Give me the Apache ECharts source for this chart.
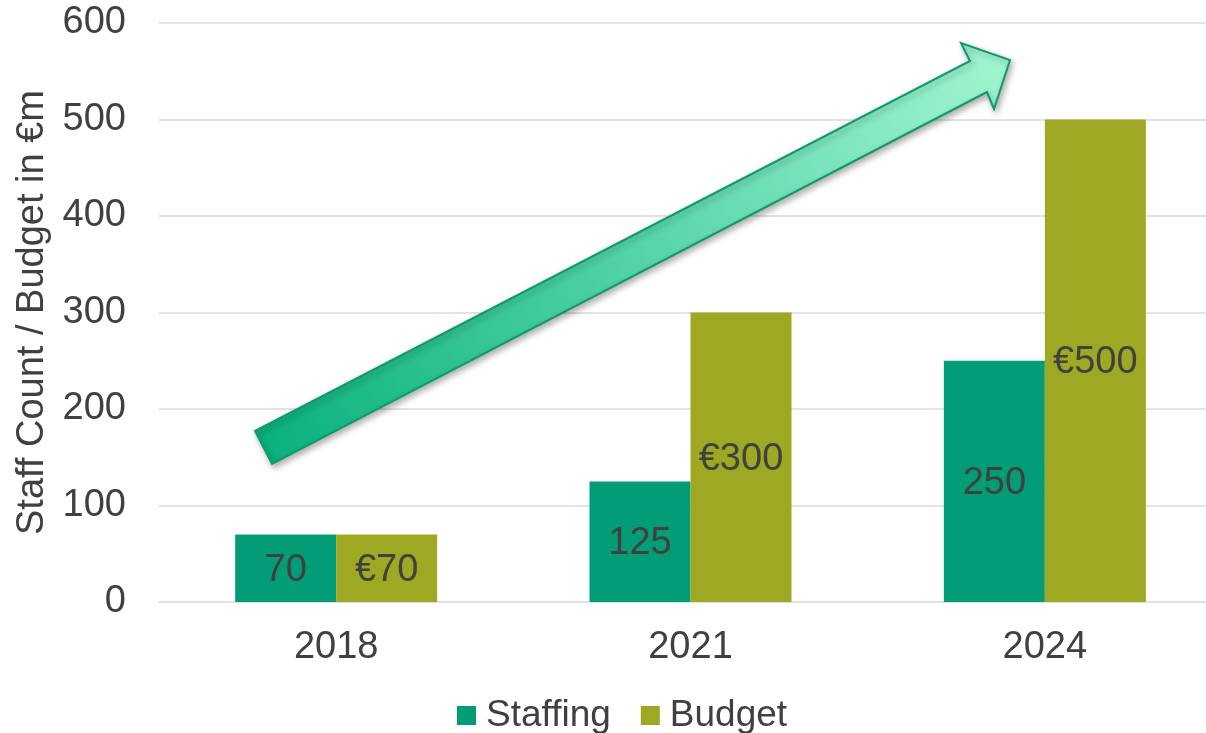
<!DOCTYPE html>
<html>
<head>
<meta charset="utf-8">
<script src="https://cdn.jsdelivr.net/npm/echarts@6/dist/echarts.min.js"></script>
<style>
  html, body { margin: 0; padding: 0; background: #fff; }
  #chart { width: 1206px; height: 733px; }
</style>
</head>
<body>
<div id="chart"></div>
<script>
var years = ['2018', '2021', '2024'];
var staffing = [70, 125, 250];
var budget = [70, 300, 500];
var yTicks = { min: 0, max: 600, interval: 100 };

var font = 'Liberation Sans, Arial, sans-serif';
var textColor = '#404040';
var fs = 38;

var chart = echarts.init(document.getElementById('chart'));

chart.setOption({
    backgroundColor: '#fff',
    animation: false,
    textStyle: { fontFamily: font },
    grid: { left: 159, top: 23, width: 1063, bottom: 131, containLabel: false, outerBoundsMode: 'none' },
    legend: {
        bottom: -6,
        left: 452,
        itemWidth: 19,
        itemHeight: 19,
        itemGap: 30,
        icon: 'rect',
        textStyle: { fontSize: 37, color: textColor, fontFamily: font, padding: [0, 0, 0, 5] },
        data: ['Staffing', 'Budget']
    },
    xAxis: {
        type: 'category',
        data: years,
        axisTick: { show: false },
        axisLine: { lineStyle: { color: '#e0e0e0', width: 2 } },
        axisLabel: { fontSize: fs, color: textColor, margin: 27, fontFamily: font }
    },
    yAxis: {
        type: 'value',
        min: yTicks.min,
        max: yTicks.max,
        interval: yTicks.interval,
        name: 'Staff Count / Budget in €m',
        nameLocation: 'middle',
        nameGap: 101,
        nameTextStyle: { fontSize: fs, color: textColor, fontFamily: font },
        axisLine: { show: false },
        axisTick: { show: false },
        splitLine: { lineStyle: { color: '#e3e3e3', width: 2 } },
        axisLabel: { fontSize: fs, color: textColor, margin: 33, fontFamily: font }
    },
    series: [
        {
            name: 'Staffing',
            type: 'bar',
            data: staffing,
            barWidth: 101,
            barGap: '0%',
            itemStyle: { color: '#029d76' },
            label: {
                show: true,
                position: 'inside',
                offset: [0, 2],
                fontSize: fs,
                color: textColor,
                fontFamily: font
            }
        },
        {
            name: 'Budget',
            type: 'bar',
            data: budget,
            barWidth: 101,
            itemStyle: { color: '#9ea822' },
            label: {
                show: true,
                position: 'inside',
                offset: [0, 2],
                fontSize: fs,
                color: textColor,
                fontFamily: font,
                formatter: function (p) { return '€' + p.value; }
            }
        }
    ],
    graphic: [
        {
            // the trend arrow
            type: 'polygon',
            z: 100,
            shape: {
                points: [[255, 431], [970, 61], [961, 43], [1010, 60], [994, 109], [987, 92], [272, 464]]
            },
            style: {
                fill: {
                    type: 'linear',
                    x: 0, y: 1, x2: 1, y2: 0,
                    colorStops: [
                        { offset: 0, color: '#06b07c' },
                        { offset: 1, color: '#a3f6d2' }
                    ]
                },
                stroke: '#0f9a6c',
                lineWidth: 2,
                shadowBlur: 6,
                shadowOffsetX: 2,
                shadowOffsetY: 3,
                shadowColor: 'rgba(0,0,0,0.3)'
            }
        }
    ]
});
</script>
</body>
</html>
